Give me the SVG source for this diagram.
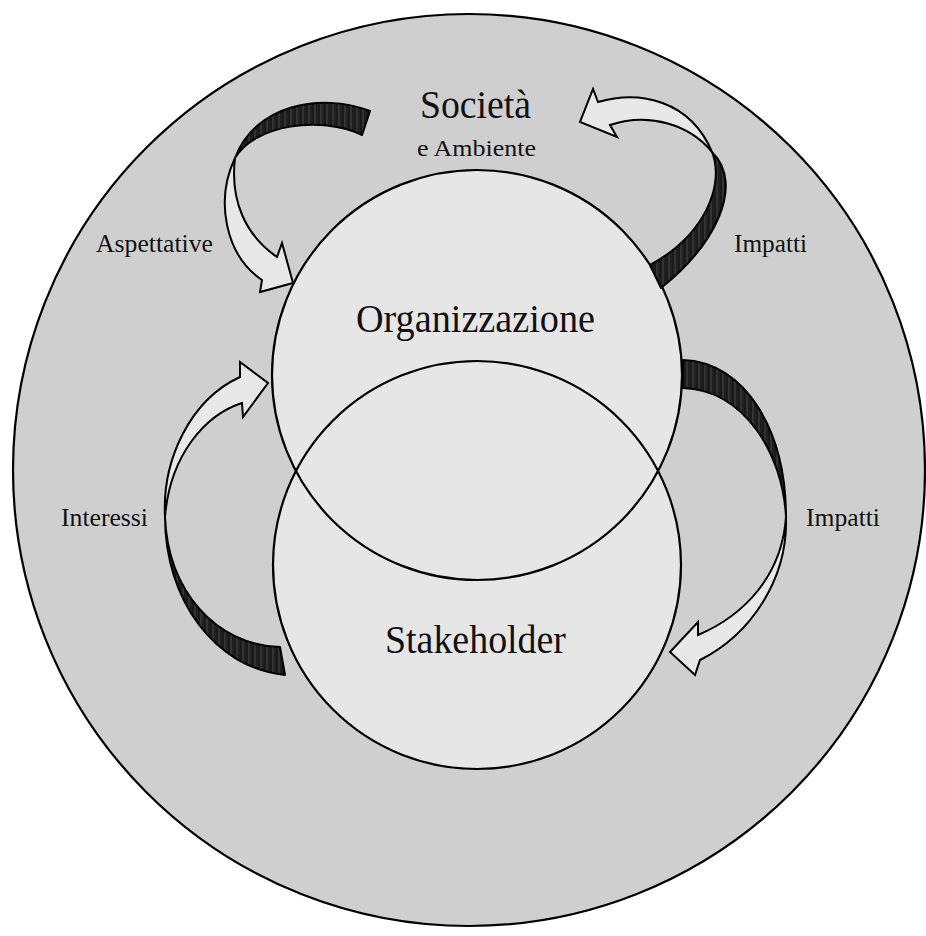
<svg xmlns="http://www.w3.org/2000/svg" width="926" height="936" viewBox="0 0 926 936">
  <style>
    .ring { fill: #cfcfcf; stroke: #000; stroke-width: 2.2; }
    .disc { fill: #e6e6e6; stroke: none; }
    .outline { fill: none; stroke: #000; stroke-width: 2.2; }
    .front { fill: #e8e8e8; stroke: #000; stroke-width: 2; stroke-linejoin: miter; }
    .back { fill: url(#hatch); stroke: #000; stroke-width: 2; stroke-linejoin: round; }
    .lbl { font-family: "Liberation Serif", "Times New Roman", serif; fill: #111; }
    .big { font-size: 40px; }
    .mid { font-size: 25px; }
  </style>
  <defs>
    <!-- shaded underside of the ribbon arrows -->
    <pattern id="hatch" patternUnits="userSpaceOnUse" width="6" height="12">
      <rect width="6" height="12" fill="#262626"/>
      <line x1="1" y1="0" x2="1" y2="12" stroke="#0d0d0d" stroke-width="1"/>
      <line x1="3" y1="0" x2="3" y2="12" stroke="#4a4a4a" stroke-width="0.7"/>
      <line x1="4.8" y1="0" x2="4.8" y2="12" stroke="#141414" stroke-width="0.8"/>
    </pattern>
  </defs>

  <rect width="926" height="936" fill="#ffffff"/>

  <!-- outer environment -->
  <g id="societa">
    <circle class="ring" cx="469" cy="470" r="456"/>
    <text class="lbl" x="420" y="118" font-size="39" textLength="111" lengthAdjust="spacingAndGlyphs">Società</text>
    <text class="lbl" x="417" y="156" font-size="24" textLength="119" lengthAdjust="spacingAndGlyphs">e Ambiente</text>
  </g>

  <!-- shared fills of the two overlapping circles -->
  <g id="fills">
    <circle class="disc" cx="477" cy="375" r="205"/>
    <circle class="disc" cx="477" cy="565" r="204"/>
  </g>

  <g id="organizzazione">
    <circle class="outline" cx="477" cy="375" r="205"/>
    <text class="lbl big" x="356" y="332" textLength="239" lengthAdjust="spacingAndGlyphs">Organizzazione</text>
  </g>

  <g id="stakeholder">
    <circle class="outline" cx="477" cy="565" r="204"/>
    <text class="lbl big" x="385" y="653" textLength="181" lengthAdjust="spacingAndGlyphs">Stakeholder</text>
  </g>

  <g id="connectors">
    <!-- Aspettative: society to organisation -->
    <g id="aspettative">
      <path class="back" d="M370,111 C320,92 255,105 235,158 C255,125 320,115 362,135 Z"/>
      <path class="front" d="M235,158 C215,200 225,255 262,280 L260,292 L293,283 L282,243 L277,257 C245,235 230,200 235,158 Z"/>
      <text class="lbl mid" x="96" y="252" textLength="117" lengthAdjust="spacingAndGlyphs">Aspettative</text>
    </g>
    <!-- Impatti: organisation to society -->
    <g id="impatti-societa">
      <path class="back" d="M661,288 C715,245 745,185 712,152 C725,185 705,235 650,265 Z"/>
      <path class="front" d="M712,152 C690,100 640,90 598,102 L593,89 L580,122 L617,137 L610,125 C650,112 690,125 712,152 Z"/>
      <text class="lbl mid" x="734" y="252" textLength="73" lengthAdjust="spacingAndGlyphs">Impatti</text>
    </g>
    <!-- Interessi: stakeholder to organisation -->
    <g id="interessi">
      <path class="back" d="M285,675 C215,668 165,600 165,517 C168,590 215,645 280,647 Z"/>
      <path class="front" d="M165,517 C162,460 190,400 240,377 L240,362 L268,383 L243,417 L242,403 C205,415 170,455 165,517 Z"/>
      <text class="lbl mid" x="61" y="526" textLength="87" lengthAdjust="spacingAndGlyphs">Interessi</text>
    </g>
    <!-- Impatti: organisation to stakeholder -->
    <g id="impatti-stakeholder">
      <path class="back" d="M683,360 C745,362 786,430 786,517 C783,455 745,390 683,388 Z"/>
      <path class="front" d="M786,517 C788,580 750,635 700,660 L695,675 L670,652 L698,622 L698,635 C745,615 782,575 786,517 Z"/>
      <text class="lbl mid" x="806" y="526" textLength="74" lengthAdjust="spacingAndGlyphs">Impatti</text>
    </g>
  </g>
</svg>
